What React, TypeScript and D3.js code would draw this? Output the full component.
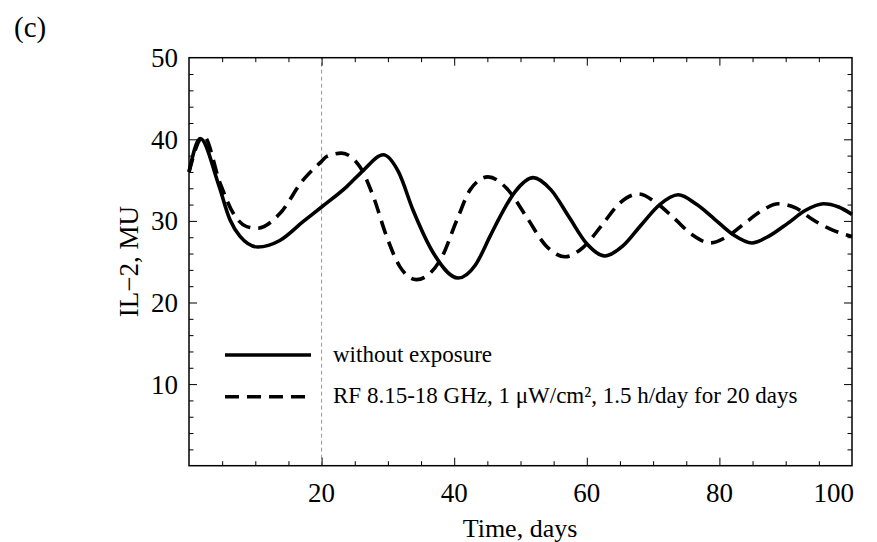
import React, { useEffect, useRef } from "react";
import * as d3 from "d3";

// time (days) and IL-2 (MU)
const noExposureT = [0, 1.7, 4.4, 6.2, 7.7, 10.4, 13.7, 17.2, 20, 23.8, 26.3, 29.3, 31.6, 33.8, 36.9, 40.6, 43.2, 45.4, 46.9, 49.2, 51.9, 54.6, 57.3, 60.0, 62.7, 65.4, 68.2, 71.0, 73.8, 76.6, 79.3, 82.1, 84.9, 87.6, 90.3, 93.0, 95.7, 98.0, 100];
const noExposureV = [36.0, 40.1, 34.6, 30.1, 28.1, 26.8, 27.6, 29.9, 31.7, 34.2, 36.2, 38.1, 36.0, 31.3, 26.0, 23.0, 24.6, 28.1, 30.5, 33.6, 35.3, 33.8, 30.5, 27.2, 25.7, 26.9, 29.5, 32.0, 33.2, 32.0, 30.2, 28.3, 27.3, 28.2, 29.7, 31.3, 32.1, 31.7, 30.8];

const rfT = [0, 2.2, 4.7, 6.7, 8.7, 10.3, 13.7, 17.2, 20, 20.8, 23.0, 25.8, 27.8, 29.8, 31.8, 34.3, 37.9, 40.4, 42.4, 45.1, 47.9, 50.9, 53.8, 56.7, 59.5, 62.3, 65.0, 67.8, 70.5, 73.2, 75.9, 78.6, 81.2, 83.8, 86.3, 88.9, 91.5, 94.0, 97.0, 100];
const rfV = [36.0, 40.4, 34.6, 30.9, 29.3, 29.1, 30.9, 35.0, 37.3, 37.9, 38.3, 36.6, 33.0, 28.1, 24.4, 22.8, 25.2, 30.1, 33.8, 35.4, 34.0, 30.5, 27.0, 25.6, 26.8, 29.5, 32.2, 33.3, 32.2, 30.3, 28.3, 27.3, 28.1, 29.7, 31.2, 32.1, 31.6, 30.2, 28.9, 28.1];

const legendLabels = [
  "without exposure",
  "RF 8.15-18 GHz, 1 \u03bcW/cm\u00b2, 1.5 h/day for 20 days",
];

const exposureEnd = 20;

const App = () => {
  const ref = useRef<SVGSVGElement>(null);

  useEffect(() => {
    const width = 877, height = 542;
    const margin = { top: 57.7, right: 25, bottom: 76.3, left: 189 };
    const font = "'Liberation Serif', 'Times New Roman', serif";

    const svg = d3.select(ref.current);
    svg.selectAll("*").remove();

    const x = d3.scaleLinear().domain([0, 100]).range([margin.left, width - margin.right]);
    const y = d3.scaleLinear().domain([0, 50]).range([height - margin.bottom, margin.top]);

    // exposure end marker
    svg.append("line")
      .attr("x1", x(exposureEnd)).attr("x2", x(exposureEnd))
      .attr("y1", y(0)).attr("y2", y(50))
      .attr("stroke", "#999").attr("stroke-width", 1)
      .attr("stroke-dasharray", "4,3");

    // frame with inward ticks on all sides
    const frame = (g, axis) => {
      g.call(axis);
      g.select(".domain").remove();
      g.selectAll(".tick line").attr("stroke", "#000").attr("stroke-width", 1);
    };
    const xMajor = [20, 40, 60, 80];
    const xMinor = d3.range(5, 100, 5).filter((d) => !xMajor.includes(d));
    const yMajor = [10, 20, 30, 40];
    const yMinor = d3.range(2, 50, 2).filter((d) => !yMajor.includes(d));

    const sides = [
      { pos: y(0), ax: d3.axisTop, s: x, maj: xMajor, min: xMinor, horiz: true },
      { pos: y(50), ax: d3.axisBottom, s: x, maj: xMajor, min: xMinor, horiz: true },
      { pos: x(0), ax: d3.axisRight, s: y, maj: yMajor, min: yMinor, horiz: false },
      { pos: x(100), ax: d3.axisLeft, s: y, maj: yMajor, min: yMinor, horiz: false },
    ];
    sides.forEach((sd) => {
      [[sd.maj, 8], [sd.min, 4.5]].forEach(([vals, len]: any) => {
        const g = svg.append("g")
          .attr("transform", sd.horiz ? `translate(0,${sd.pos})` : `translate(${sd.pos},0)`);
        frame(g, sd.ax(sd.s).tickValues(vals).tickSize(len).tickFormat(() => ""));
      });
    });

    svg.append("rect")
      .attr("x", x(0)).attr("y", y(50))
      .attr("width", x(100) - x(0)).attr("height", y(0) - y(50))
      .attr("fill", "none").attr("stroke", "#000").attr("stroke-width", 1.5);

    // tick labels
    svg.append("g").selectAll("text")
      .data([20, 40, 60, 80, 100])
      .enter().append("text")
      .attr("x", (d) => x(d)).attr("y", 502)
      .attr("text-anchor", (d) => (d === 100 ? "end" : "middle"))
      .attr("dx", (d) => (d === 100 ? 2 : 0))
      .style("font-family", font).style("font-size", "27px")
      .text((d) => d);

    svg.append("g").selectAll("text")
      .data([10, 20, 30, 40, 50])
      .enter().append("text")
      .attr("x", x(0) - 11).attr("y", (d) => y(d) + 9.5)
      .attr("text-anchor", "end")
      .style("font-family", font).style("font-size", "27px")
      .text((d) => d);

    // axis titles
    svg.append("text")
      .attr("x", 520).attr("y", 537)
      .attr("text-anchor", "middle")
      .style("font-family", font).style("font-size", "26px")
      .text("Time, days");

    svg.append("text")
      .attr("transform", `translate(138,${(y(0) + y(50)) / 2}) rotate(-90)`)
      .attr("text-anchor", "middle")
      .style("font-family", font).style("font-size", "27px")
      .text("IL\u22122, MU");

    svg.append("text")
      .attr("x", 14).attr("y", 37)
      .style("font-family", font).style("font-size", "29px")
      .text("(c)");

    // curves
    const draw = (t: number[], v: number[], dash: string | null) => {
      const pts = t.map((d, i) => [x(d), y(v[i])] as [number, number]);
      svg.append("path")
        .attr("d", d3.line().curve(d3.curveMonotoneX)(pts))
        .attr("fill", "none").attr("stroke", "#000")
        .attr("stroke-width", 3.6)
        .attr("stroke-dasharray", dash);
    };
    draw(noExposureT, noExposureV, null);
    draw(rfT, rfV, "14,8");

    // legend
    const leg = svg.append("g");
    legendLabels.forEach((lab, i) => {
      const ly = 355 + i * 41.7;
      leg.append("line")
        .attr("x1", 225).attr("x2", i === 0 ? 311 : 306)
        .attr("y1", ly).attr("y2", ly)
        .attr("stroke", "#000").attr("stroke-width", 3.6)
        .attr("stroke-dasharray", i === 0 ? null : "14,8");
      leg.append("text")
        .attr("x", 333).attr("y", ly + 6.5)
        .style("font-family", font).style("font-size", "23px")
        .text(lab);
    });
  }, []);

  return (
    <svg ref={ref} width={877} height={542}
      style={{ position: "absolute", left: 0, top: 0, background: "#fff" }} />
  );
};

export default App;
